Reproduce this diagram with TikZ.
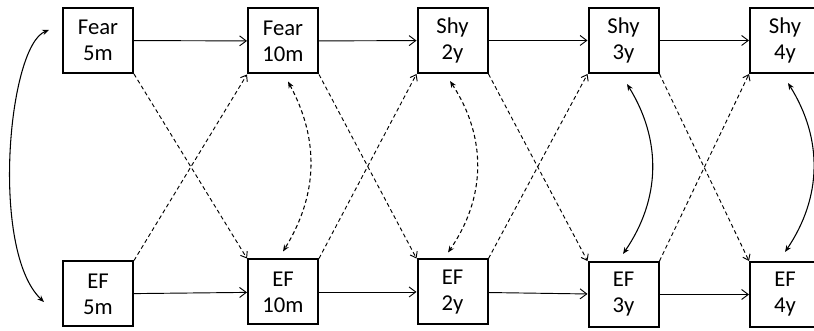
\documentclass[tikz,border=0pt]{standalone}
\usepackage{fontspec}
\setmainfont{Carlito}
\usetikzlibrary{arrows.meta}
\begin{document}
\begin{tikzpicture}[x=0.75pt,y=0.75pt,
  stage/.style={draw, line width=1.5pt, minimum width=52.5pt, minimum height=48.75pt,
    inner sep=0pt, align=center, font=\fontsize{17}{19.5}\selectfont},
  flow/.style={line width=0.7pt, -{Straight Barb[length=5pt,width=7.5pt]}},
  cross/.style={line width=0.7pt, dash pattern=on 3pt off 2.2pt,
    -{Straight Barb[length=4pt,width=6pt]}},
  link/.style={line width=0.8pt,
    {Stealth[length=5pt,width=4pt]}-{Stealth[length=5pt,width=4pt]}},
  dlink/.style={link, dash pattern=on 3pt off 2.2pt}]
\useasboundingbox (0,0) rectangle (814,331);
\clip (0,0) rectangle (814,331);

% upper row: fear / shyness
\node[stage] (F5)  at (98,290.5)  {Fear\\5m};
\node[stage] (F10) at (283,290)   {Fear\\10m};
\node[stage] (S2)  at (452.5,290.5) {Shy\\2y};
\node[stage] (S3)  at (623.5,290.5) {Shy\\3y};
\node[stage] (S4)  at (785,290.5) {Shy\\4y};

% lower row: effortful control
\node[stage] (E5)  at (98,37)     {EF\\5m};
\node[stage] (E10) at (283,39)    {EF\\10m};
\node[stage] (E2)  at (452.5,39)  {EF\\2y};
\node[stage] (E3)  at (623.5,36.5) {EF\\3y};
\node[stage] (E4)  at (785,36.5)  {EF\\4y};

% stability paths
\draw[flow] (F5) -- (F10);
\draw[flow] (F10) -- (S2);
\draw[flow] (S2) -- (S3);
\draw[flow] (S3) -- (S4);
\draw[flow] (E5) -- (E10);
\draw[flow] (E10) -- (E2);
\draw[flow] (E2) -- (E3);
\draw[flow] (E3) -- (E4);

% cross-lagged paths
\draw[cross] (F5.south east)  -- (E10.north west);
\draw[cross] (E5.north east)  -- (F10.south west);
\draw[cross] (F10.south east) -- (E2.north west);
\draw[cross] (E10.north east) -- (S2.south west);
\draw[cross] (S2.south east)  -- (E3.north west);
\draw[cross] (E2.north east)  -- (S3.south west);
\draw[cross] (S3.south east)  -- (E4.north west);
\draw[cross] (E3.north east)  -- (S4.south west);

% within-time covariances
\draw[link] ([shift={(-13,10.5)}]F5.west) .. controls (8,285) and (-10,80) .. ([shift={(-18,-8)}]E5.west);
\draw[dlink] ([shift={(5,-7)}]F10.south) to[bend left=30] ([shift={(0,7)}]E10.north);
\draw[dlink] ([shift={(-2.5,-7)}]S2.south) to[bend left=34] ([shift={(-4.5,6)}]E2.north);
\draw[link] ([shift={(3.5,-10)}]S3.south) to[bend left=33] ([shift={(-0.5,7)}]E3.north);
\draw[link] ([shift={(3,-9)}]S4.south) to[bend left=33] ([shift={(0,9)}]E4.north);
\end{tikzpicture}
\end{document}
